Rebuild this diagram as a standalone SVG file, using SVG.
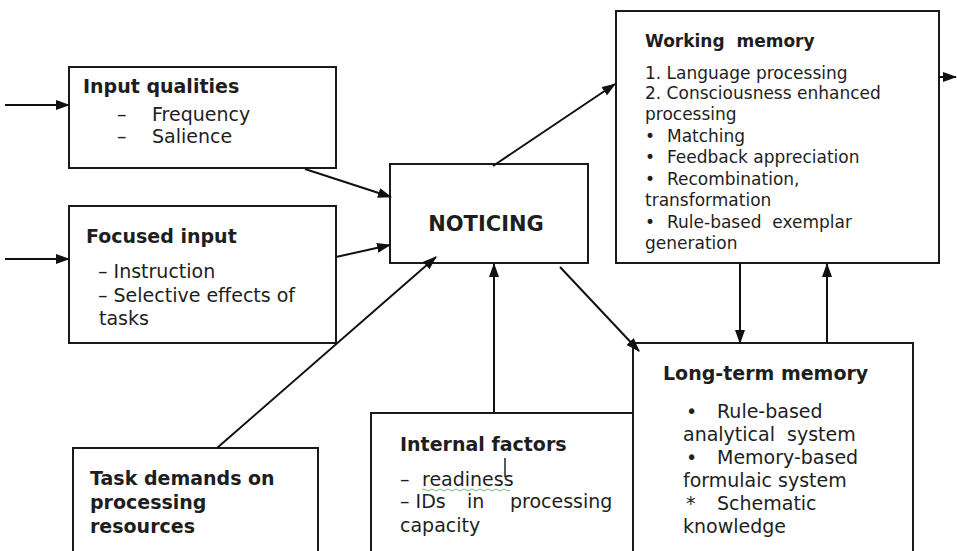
<svg xmlns="http://www.w3.org/2000/svg" width="957" height="551" viewBox="0 0 957 551">
<style>
.box{fill:#fff;stroke:#1a1a1a;stroke-width:2}
.t{font-family:"DejaVu Sans",Verdana,sans-serif;fill:#1e1e1e}
.b{font-weight:bold}
.s19{font-size:19px}
.s17{font-size:17px}
.c{stroke:#111;stroke-width:2;fill:none;marker-end:url(#ah)}
</style>
<defs>
<marker id="ah" markerUnits="userSpaceOnUse" markerWidth="14" markerHeight="10" refX="13" refY="5" orient="auto">
<path d="M0,0 L14,5 L0,10 z" fill="#111"/>
</marker>
</defs>
<rect width="957" height="551" fill="#fff"/>

<g id="input-qualities">
<rect class="box" x="69" y="67" width="267" height="101"/>
<text class="t b s19" x="83" y="93">Input qualities</text>
<text class="t s19" x="117" y="121">–</text><text class="t s19" x="152" y="121">Frequency</text>
<text class="t s19" x="117" y="143">–</text><text class="t s19" x="152" y="143">Salience</text>
</g>

<g id="focused-input">
<rect class="box" x="69" y="206" width="267" height="137"/>
<text class="t b s19" x="86" y="243">Focused input</text>
<text class="t s19" x="98" y="278">– Instruction</text>
<text class="t s19" x="98" y="302">– Selective effects of</text>
<text class="t s19" x="99" y="325">tasks</text>
</g>

<g id="noticing">
<rect class="box" x="390" y="164" width="198" height="99"/>
<text class="t b" font-size="21" x="486" y="231" text-anchor="middle">NOTICING</text>
</g>

<g id="working-memory">
<rect class="box" x="616" y="11" width="323" height="252"/>
<text class="t b s17" x="645" y="47" xml:space="preserve">Working  memory</text>
<text class="t s17" x="645" y="79">1. Language processing</text>
<text class="t s17" x="645" y="99">2. Consciousness enhanced</text>
<text class="t s17" x="645" y="120">processing</text>
<text class="t s17" x="645" y="142">•</text><text class="t s17" x="667" y="142">Matching</text>
<text class="t s17" x="645" y="163">•</text><text class="t s17" x="667" y="163">Feedback appreciation</text>
<text class="t s17" x="645" y="185">•</text><text class="t s17" x="667" y="185">Recombination,</text>
<text class="t s17" x="645" y="206">transformation</text>
<text class="t s17" x="645" y="228">•</text><text class="t s17" x="667" y="228" xml:space="preserve">Rule-based  exemplar</text>
<text class="t s17" x="645" y="249">generation</text>
</g>

<g id="long-term-memory">
<rect class="box" x="633" y="343" width="280" height="220"/>
<text class="t b s19" x="663" y="380">Long-term memory</text>
<text class="t s19" x="686" y="418">•</text><text class="t s19" x="717" y="418">Rule-based</text>
<text class="t s19" x="683" y="441" xml:space="preserve">analytical  system</text>
<text class="t s19" x="686" y="464">•</text><text class="t s19" x="717" y="464">Memory-based</text>
<text class="t s19" x="683" y="487">formulaic system</text>
<text class="t s19" x="686" y="510">*</text><text class="t s19" x="717" y="510">Schematic</text>
<text class="t s19" x="683" y="533">knowledge</text>
</g>

<g id="internal-factors">
<rect class="box" x="371" y="413" width="262" height="150"/>
<text class="t b s19" x="400" y="451">Internal factors</text>
<line x1="505" y1="458" x2="505" y2="477" stroke="#222" stroke-width="1.5"/>
<text class="t s19" x="400" y="486">–</text><text class="t s19" x="422" y="486">readiness</text>
<path d="M422,490 q2,-2 4,0 t4,0 t4,0 t4,0 t4,0 t4,0 t4,0 t4,0 t4,0 t4,0 t4,0 t4,0 t4,0 t4,0 t4,0 t4,0 t4,0 t4,0 t4,0 t4,0 t4,0 t4,0" fill="none" stroke="#7ab87a" stroke-width="1"/>
<text class="t s19" x="400" y="508">– IDs</text><text class="t s19" x="467" y="508">in</text><text class="t s19" x="510" y="508">processing</text>
<text class="t s19" x="400" y="532">capacity</text>
</g>

<g id="task-demands">
<rect class="box" x="73" y="448" width="245" height="115"/>
<text class="t b s19" x="90" y="485">Task demands on</text>
<text class="t b s19" x="90" y="509">processing</text>
<text class="t b s19" x="90" y="533">resources</text>
</g>

<g id="connectors">
<line class="c" x1="5" y1="105" x2="69" y2="105"/>
<line class="c" x1="5" y1="259" x2="69" y2="259"/>
<line class="c" x1="305" y1="169" x2="391" y2="197"/>
<line class="c" x1="336" y1="257" x2="390" y2="245"/>
<line class="c" x1="217" y1="448" x2="436" y2="257"/>
<line class="c" x1="494" y1="413" x2="494" y2="264"/>
<line class="c" x1="493" y1="166" x2="615" y2="84"/>
<line class="c" x1="560" y1="267" x2="639" y2="351"/>
<line class="c" x1="740" y1="263" x2="740" y2="343"/>
<line class="c" x1="827" y1="343" x2="827" y2="264"/>
<line class="c" x1="939" y1="77" x2="956" y2="77"/>
</g>
</svg>
